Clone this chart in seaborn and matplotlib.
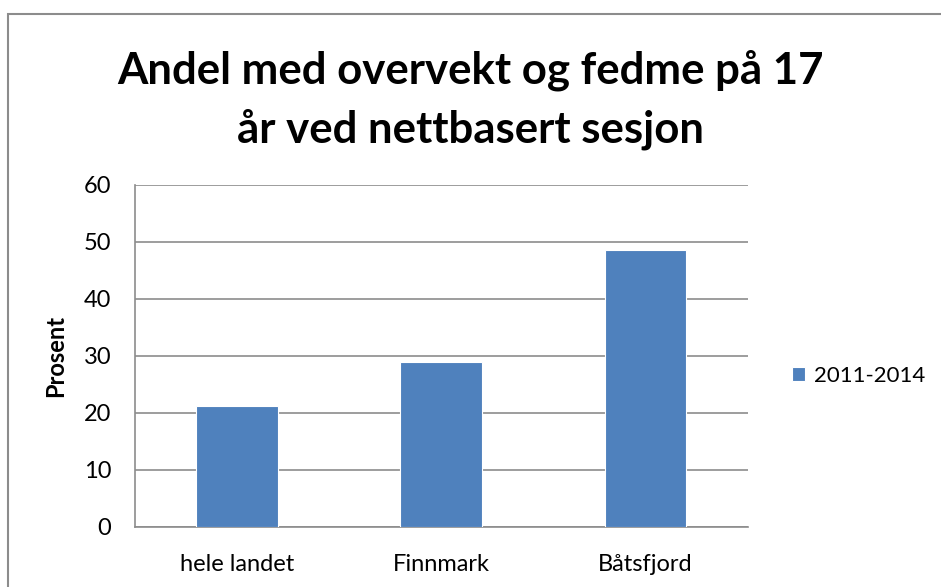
import pandas as pd
import seaborn as sns
import matplotlib.pyplot as plt
from matplotlib.patches import Rectangle

steder = ["hele landet", "Finnmark", "Båtsfjord"]
andel = [21.2, 28.9, 48.5]
periode = "2011-2014"
tittel = "Andel med overvekt og fedme på 17\når ved nettbasert sesjon"

df = pd.DataFrame({"sted": steder, "andel": andel, "periode": periode})

sns.set_style("white")
plt.rcParams["font.family"] = ["Lato", "DejaVu Sans"]
plt.rcParams["text.color"] = "black"
plt.rcParams["xtick.color"] = "black"
plt.rcParams["ytick.color"] = "black"

fig = plt.figure(figsize=(9.41, 5.87), dpi=100)
ax = fig.add_axes([0.1435, 0.103, 0.651, 0.582])

sns.barplot(data=df, x="sted", y="andel", hue="periode", palette=["#4F81BD"],
            saturation=1, width=0.4, edgecolor="white", linewidth=0.8, ax=ax, zorder=3)

ax.set_ylim(0, 60)
ax.set_yticks(range(0, 61, 10))
ax.yaxis.grid(True, color="#8c8c8c", linewidth=1.2, zorder=0)
ax.set_axisbelow(True)
for s in ["top", "right"]:
    ax.spines[s].set_visible(False)
for s in ["left", "bottom"]:
    ax.spines[s].set_color("#8c8c8c")
    ax.spines[s].set_linewidth(1.2)
ax.tick_params(axis="y", length=9, color="#8c8c8c", width=1.2, labelsize=17, pad=8)
ax.tick_params(axis="x", length=0, labelsize=17, pad=20)
ax.set_xlabel("")
ax.set_ylabel("Prosent", fontsize=17, fontweight="bold", labelpad=12, color="black")

leg = ax.legend(loc="center left", bbox_to_anchor=(1.04, 0.44), frameon=False,
                fontsize=16, handlelength=0.6, handleheight=0.6, handletextpad=0.4)

fig.suptitle(tittel, fontsize=31.5, fontweight="bold", y=0.915, x=0.5, linespacing=1.5)

# outer chart border
fig.patches.append(Rectangle((8 / 941, -0.1), 1.2, 1 - 14 / 587 + 0.1,
                             transform=fig.transFigure, fill=False,
                             edgecolor="#8c8c8c", linewidth=1.5))

fig.savefig("out.png", dpi=100)
